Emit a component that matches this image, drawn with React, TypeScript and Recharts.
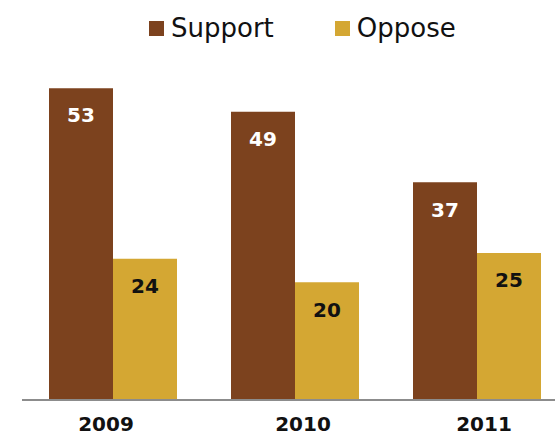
import React from "react";
import { BarChart, Bar, XAxis, YAxis, LabelList } from "recharts";

const YEARS = ["2009", "2010", "2011"];
const SUPPORT = [53, 49, 37];
const OPPOSE = [24, 20, 25];

const SUPPORT_COLOR = "#7c421e";
const OPPOSE_COLOR = "#d4a733";
const FONT = "'DejaVu Sans', Verdana, sans-serif";

// the year labels in the original sit a little off the group centres
const TICK_NUDGE = [-7, 8, 7];

const data = YEARS.map((year, i) => ({
  year,
  support: SUPPORT[i],
  oppose: OPPOSE[i],
}));

const YearTick = (props: any) => {
  const { x, y, payload, index } = props;
  return (
    <text
      x={x + (TICK_NUDGE[index] ?? 0)}
      y={y}
      dy={29}
      textAnchor="middle"
      fontFamily={FONT}
      fontSize={20}
      fontWeight="bold"
      fill="#111"
    >
      {payload.value}
    </text>
  );
};

const LegendItem: React.FC<{ color: string; label: string; gap?: number }> = ({
  color,
  label,
  gap = 0,
}) => (
  <div style={{ display: "flex", alignItems: "center", marginRight: gap }}>
    <span style={{ width: 15, height: 15, background: color, marginRight: 7, display: "inline-block" }} />
    <span>{label}</span>
  </div>
);

export default function App() {
  return (
    <div
      style={{
        position: "absolute",
        left: 0,
        top: 0,
        width: 555,
        height: 434,
        overflow: "hidden",
        background: "#fff",
      }}
    >
      <div
        style={{
          position: "absolute",
          left: 149,
          top: 13,
          display: "flex",
          fontFamily: FONT,
          fontSize: 26,
          lineHeight: "30px",
          color: "#111",
          zIndex: 1,
        }}
      >
        <LegendItem color={SUPPORT_COLOR} label="Support" gap={61} />
        <LegendItem color={OPPOSE_COLOR} label="Oppose" />
      </div>
      <BarChart
        width={570}
        height={434}
        data={data}
        margin={{ top: 47, right: 2, bottom: 0, left: 22 }}
        barGap={0}
        barSize={64}
      >
        <XAxis
          dataKey="year"
          height={34}
          tickLine={false}
          tickSize={0}
          axisLine={{ stroke: "#8c8c8c", strokeWidth: 2 }}
          tick={<YearTick />}
        />
        <YAxis hide domain={[0, 60]} />
        <Bar dataKey="support" fill={SUPPORT_COLOR} isAnimationActive={false}>
          <LabelList
            dataKey="support"
            position="insideTop"
            offset={20}
            fill="#fff"
            fontSize={20}
            fontWeight="bold"
            fontFamily={FONT}
          />
        </Bar>
        <Bar dataKey="oppose" fill={OPPOSE_COLOR} isAnimationActive={false}>
          <LabelList
            dataKey="oppose"
            position="insideTop"
            offset={20}
            fill="#111"
            fontSize={20}
            fontWeight="bold"
            fontFamily={FONT}
          />
        </Bar>
      </BarChart>
    </div>
  );
}
